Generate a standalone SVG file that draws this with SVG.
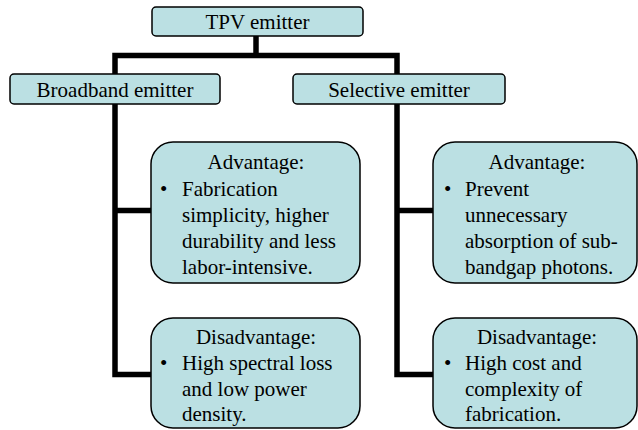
<svg xmlns="http://www.w3.org/2000/svg" width="638" height="430" viewBox="0 0 638 430">
<style>
.box{fill:#BBE0E3;stroke:#000;stroke-width:1.5}
.t{font-family:"Liberation Serif","Times New Roman",serif;font-size:21px;fill:#000}
.c{text-anchor:middle}
.conn{fill:none;stroke:#000;stroke-width:5.5;stroke-linejoin:miter;stroke-linecap:butt}
</style>
<rect width="638" height="430" fill="#fff"/>
<g id="connectors">
<path class="conn" d="M256,36 V56"/>
<path class="conn" d="M115,74 V55.5 H397 V74"/>
<path class="conn" d="M115,104 V374.5 H152"/>
<path class="conn" d="M115,210.5 H152"/>
<path class="conn" d="M397,104 V374.5 H434"/>
<path class="conn" d="M397,210.5 H434"/>
</g>
<g id="tpv">
<rect class="box" x="152" y="7" width="211" height="29" rx="4"/>
<text class="t c" x="257.5" y="29">TPV emitter</text>
</g>
<g id="broadband">
<rect class="box" x="10" y="74" width="210" height="30" rx="4"/>
<text class="t c" x="115" y="97">Broadband emitter</text>
</g>
<g id="selective">
<rect class="box" x="293" y="74" width="212" height="30" rx="4"/>
<text class="t c" x="399" y="97">Selective emitter</text>
</g>
<g id="bb-adv">
<rect class="box" x="151" y="142" width="209" height="141" rx="22"/>
<text class="t c" x="256" y="169">Advantage:</text>
<text class="t" x="160" y="196">•</text>
<text class="t" x="182" y="196">Fabrication</text>
<text class="t" x="182" y="222">simplicity, higher</text>
<text class="t" x="182" y="248">durability and less</text>
<text class="t" x="182" y="274">labor-intensive.</text>
</g>
<g id="bb-dis">
<rect class="box" x="151" y="318" width="209" height="110" rx="22"/>
<text class="t c" x="256" y="344">Disadvantage:</text>
<text class="t" x="160" y="370">•</text>
<text class="t" x="182" y="370">High spectral loss</text>
<text class="t" x="182" y="396">and low power</text>
<text class="t" x="182" y="421">density.</text>
</g>
<g id="sel-adv">
<rect class="box" x="433" y="142" width="204" height="141" rx="22"/>
<text class="t c" x="537" y="169">Advantage:</text>
<text class="t" x="444" y="196">•</text>
<text class="t" x="465" y="196">Prevent</text>
<text class="t" x="465" y="222">unnecessary</text>
<text class="t" x="465" y="248">absorption of sub-</text>
<text class="t" x="465" y="274">bandgap photons.</text>
</g>
<g id="sel-dis">
<rect class="box" x="433" y="318" width="204" height="110" rx="22"/>
<text class="t c" x="537" y="344">Disadvantage:</text>
<text class="t" x="444" y="370">•</text>
<text class="t" x="465" y="370">High cost and</text>
<text class="t" x="465" y="396">complexity of</text>
<text class="t" x="465" y="421">fabrication.</text>
</g>
</svg>
